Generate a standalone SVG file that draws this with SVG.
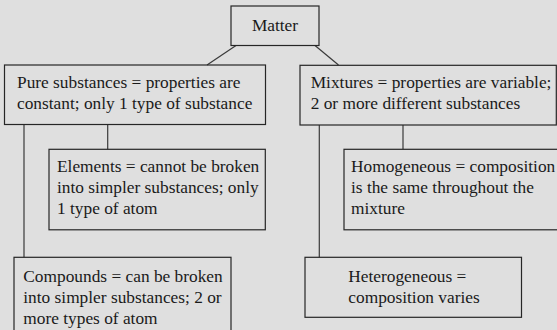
<svg xmlns="http://www.w3.org/2000/svg" width="557" height="330" viewBox="0 0 557 330">
<style>
.box{fill:none;stroke:#262626;stroke-width:1.2}
.t{font-family:"Liberation Serif","Times New Roman",serif;font-size:17.33px;fill:#1a1a1a}
.c{stroke:#3a3a3a;stroke-width:1.2;fill:none}
</style>
<rect x="0" y="0" width="557" height="330" fill="#dfdfdf"/>
<g id="connectors">
<line class="c" x1="236" y1="45.5" x2="207" y2="65"/>
<line class="c" x1="315" y1="45.5" x2="338.5" y2="65"/>
<line class="c" x1="24" y1="124.5" x2="24" y2="257.3"/>
<line class="c" x1="107.7" y1="124.5" x2="107.7" y2="149.3"/>
<line class="c" x1="319.3" y1="125" x2="319.3" y2="257.3"/>
<line class="c" x1="403" y1="125" x2="403" y2="149.3"/>
</g>
<g id="matter">
<rect class="box" x="231" y="6" width="88" height="39.5"/>
<text class="t" x="275" y="30.5" text-anchor="middle">Matter</text>
</g>
<g id="pure">
<rect class="box" x="4.5" y="65" width="261" height="59.5"/>
<text class="t" x="17" y="88.3">Pure substances = properties are</text>
<text class="t" x="17" y="109.4">constant; only 1 type of substance</text>
</g>
<g id="mixtures">
<rect class="box" x="300" y="65.3" width="256.3" height="59.7"/>
<text class="t" x="310.7" y="88.3">Mixtures = properties are variable;</text>
<text class="t" x="310.7" y="109.4">2 or more different substances</text>
</g>
<g id="elements">
<rect class="box" x="49" y="149.3" width="216.3" height="80.5"/>
<text class="t" x="57" y="172.4">Elements = cannot be broken</text>
<text class="t" x="57" y="193.4">into simpler substances; only</text>
<text class="t" x="57" y="214.4">1 type of atom</text>
</g>
<g id="homogeneous">
<rect class="box" x="344" y="149.3" width="220" height="80.5"/>
<text class="t" x="351" y="172.4">Homogeneous = composition</text>
<text class="t" x="351" y="193.4">is the same throughout the</text>
<text class="t" x="351" y="214.4">mixture</text>
</g>
<g id="compounds">
<rect class="box" x="14" y="257.3" width="217" height="90"/>
<text class="t" x="23.3" y="281.7">Compounds = can be broken</text>
<text class="t" x="23.3" y="302.7">into simpler substances; 2 or</text>
<text class="t" x="23.3" y="323.6">more types of atom</text>
</g>
<g id="heterogeneous">
<rect class="box" x="305" y="257.3" width="216.5" height="60"/>
<text class="t" x="348.3" y="281.7">Heterogeneous =</text>
<text class="t" x="348.3" y="302.7">composition varies</text>
</g>
</svg>
